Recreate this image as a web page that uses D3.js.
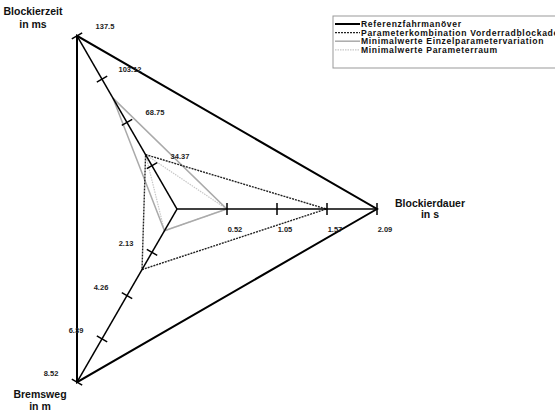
<!DOCTYPE html>
<html>
<head>
<meta charset="utf-8">
<script src="https://cdn.jsdelivr.net/npm/d3@7"></script>
<style>
  body { margin: 0; background: #fff; overflow: hidden; }
  svg { display: block; font-family: "Liberation Sans", Arial, sans-serif; }
</style>
</head>
<body>
<div id="radar"></div>
<script>
// axes (clockwise from the right) and their max values
const axisNames = [["Blockierdauer", "in s"], ["Bremsweg", "in m"], ["Blockierzeit", "in ms"]];
const axisMax = [2.09, 8.52, 137.5];
const tickLabels = [
    ["0.52", "1.05", "1.57", "2.09"],
    ["2.13", "4.26", "6.39", "8.52"],
    ["34.37", "68.75", "103.12", "137.5"]
];

// series values, same order as axisNames
const seriesNames = ["Referenzfahrmanöver", "Parameterkombination Vorderradblockade", "Minimalwerte Einzelparametervariation", "Minimalwerte Parameterraum"];
const referenz = [2.09, 8.52, 137.5];
const kombination = [1.56, 2.98, 43.2];
const einzel = [0.52, 1.07, 88];
const raum = [0.52, 1.07, 43.2];

function drawRadar() {
    const width = 555, height = 414;
    const cx = 177, cy = 209, radius = 200;

    const svg = d3.select("#radar").append("svg")
        .attr("width", width)
        .attr("height", height);

    const g = svg.append("g").attr("transform", `translate(${cx},${cy})`);

    // angle convention of d3.lineRadial: 0 = up, clockwise
    const angles = [Math.PI / 2, 7 * Math.PI / 6, -Math.PI / 6];
    const scales = axisMax.map(m => d3.scaleLinear().domain([0, m]).range([0, radius]));
    const pt = (i, v) => {
        const r = scales[i](v);
        return [Math.sin(angles[i]) * r, -Math.cos(angles[i]) * r];
    };

    const line = d3.lineRadial()
        .angle((d, i) => angles[i])
        .radius((d, i) => scales[i](d))
        .curve(d3.curveLinearClosed);

    const styles = [
        { data: referenz, stroke: "#000", width: 2, dash: null },
        { data: kombination, stroke: "#222", width: 1.4, dash: "2,1" },
        { data: einzel, stroke: "#aaa", width: 1.5, dash: null },
        { data: raum, stroke: "#c8c8c8", width: 1.2, dash: "1.5,1" }
    ];

    // series polygons (drawn light first)
    g.selectAll("path.series")
        .data(styles.slice().reverse())
        .enter().append("path")
        .attr("class", "series")
        .attr("d", d => line(d.data))
        .attr("fill", "none")
        .attr("stroke", d => d.stroke)
        .attr("stroke-width", d => d.width)
        .attr("stroke-dasharray", d => d.dash);

    // axes
    axisMax.forEach((m, i) => {
        const [x2, y2] = pt(i, m);
        g.append("line")
            .attr("x1", 0).attr("y1", 0)
            .attr("x2", x2).attr("y2", y2)
            .attr("stroke", "#000")
            .attr("stroke-width", 1.5);

        const ticks = tickLabels[i].map((t, k) => m * (k + 1) / 4);
        const px = Math.cos(angles[i]), py = Math.sin(angles[i]);
        ticks.forEach((v, k) => {
            const [tx, ty] = pt(i, v);
            g.append("line")
                .attr("x1", tx - px * 6).attr("y1", ty - py * 6)
                .attr("x2", tx + px * 6).attr("y2", ty + py * 6)
                .attr("stroke", "#000")
                .attr("stroke-width", 1.5);

            const off = [[8, 23], [-26, -6], [28, -7]][i];
            g.append("text")
                .attr("x", tx + off[0])
                .attr("y", ty + off[1])
                .attr("text-anchor", "middle")
                .style("font-size", "7.5px")
                .style("font-weight", "bold")
                .style("fill", "#222")
                .text(tickLabels[i][k]);
        });
    });

    // axis titles
    const titlePos = [[430, 207, 11], [40, 398, 12], [33, 15, 13]];
    axisNames.forEach((n, i) => {
        const t = svg.append("text")
            .attr("x", titlePos[i][0])
            .attr("y", titlePos[i][1])
            .attr("text-anchor", "middle")
            .style("font-size", "10.5px")
            .style("font-weight", "bold")
            .style("fill", "#111");
        t.append("tspan").attr("x", titlePos[i][0]).text(n[0]);
        t.append("tspan").attr("x", titlePos[i][0]).attr("dy", titlePos[i][2]).text(n[1]);
    });

    // legend
    const legend = svg.append("g").attr("transform", "translate(333,16)");
    legend.append("rect")
        .attr("x", 0).attr("y", 0)
        .attr("width", 240).attr("height", 52)
        .attr("fill", "#fff")
        .attr("stroke", "#999")
        .attr("stroke-width", 1);

    const items = legend.selectAll(".legend-item")
        .data(styles)
        .enter().append("g")
        .attr("class", "legend-item")
        .attr("transform", (d, i) => `translate(2, ${8 + i * 8.6})`);

    items.append("line")
        .attr("x1", 0).attr("x2", 25)
        .attr("stroke", d => d.stroke)
        .attr("stroke-width", d => d.width)
        .attr("stroke-dasharray", d => d.dash);

    items.append("text")
        .attr("x", 26)
        .attr("dy", "0.35em")
        .style("font-size", "8.6px")
        .style("letter-spacing", "0.65px")
        .style("font-weight", "bold")
        .style("fill", "#111")
        .text((d, i) => seriesNames[i]);
}

drawRadar();
</script>
</body>
</html>
